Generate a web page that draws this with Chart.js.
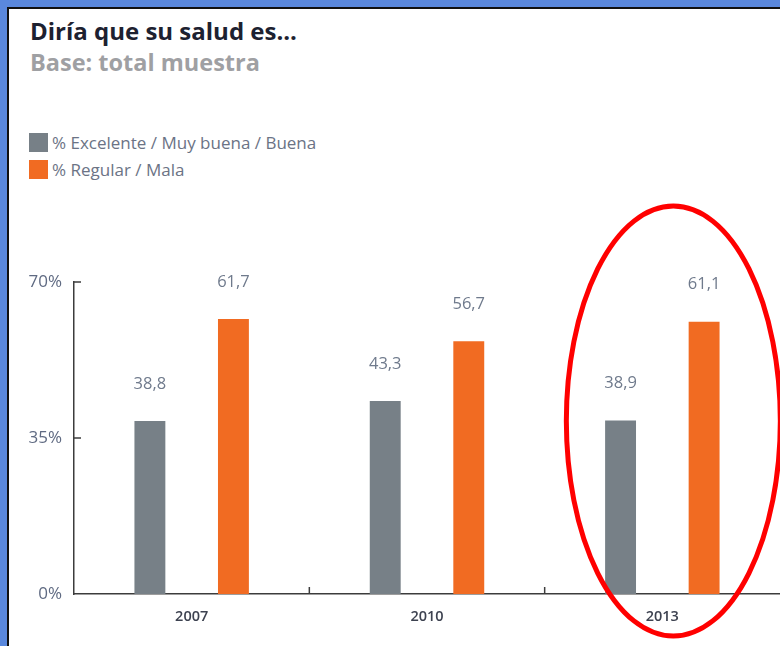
<!DOCTYPE html>
<html>
<head>
<meta charset="utf-8">
<script src="https://cdn.jsdelivr.net/npm/chart.js@4/dist/chart.umd.min.js"></script>
<style>
  html, body { margin:0; padding:0; width:780px; height:646px; overflow:hidden; background:#5a88dd; }
  #panel { position:absolute; left:7px; top:7px; width:773px; height:639px; background:#fff;
           border-left:2px solid #111; border-top:2px solid #111; box-sizing:border-box; }
  #title { position:absolute; left:30px; top:15px; font-family:"Open Sans", sans-serif; font-weight:700;
           font-size:24px; line-height:1.36; color:#1d2130; white-space:nowrap; }
  #subtitle { position:absolute; left:30px; top:47px; font-family:"Open Sans", sans-serif; font-weight:700;
           font-size:23.5px; line-height:1.36; color:#9fa0a3; white-space:nowrap; }
  #legend { position:absolute; left:29px; top:129px; font-family:"Open Sans", sans-serif; font-size:17px; color:#6b7385; }
  .item { display:flex; align-items:center; height:27px; }
  .sw { width:19px; height:19px; margin-right:4px; }
  canvas { position:absolute; left:0; top:0; }
</style>
</head>
<body>
<div id="panel"></div>
<div id="title">Diría que su salud es...</div>
<div id="subtitle">Base: total muestra</div>
<div id="legend"></div>
<canvas id="c" width="780" height="646"></canvas>
<script>
const categories = ['2007', '2010', '2013'];
const seriesNames = ['% Excelente / Muy buena / Buena', '% Regular / Mala'];
const seriesExcelente = [38.8, 43.3, 38.9];
const seriesRegular = [61.7, 56.7, 61.1];
const yTickValues = [0, 35, 70];
const seriesColors = ['#778087', '#f16b22'];

// HTML legend built from the series
const legendEl = document.getElementById('legend');
seriesNames.forEach((n, i) => {
  const d = document.createElement('div'); d.className = 'item';
  const s = document.createElement('span'); s.className = 'sw'; s.style.background = seriesColors[i];
  const t = document.createElement('span'); t.textContent = n;
  d.appendChild(s); d.appendChild(t); legendEl.appendChild(d);
});

const fmt = v => v.toFixed(1).replace('.', ',');

const valueLabels = {
  id: 'valueLabels',
  afterDatasetsDraw(chart) {
    const ctx = chart.ctx;
    ctx.save();
    ctx.font = '16.5px "Open Sans", sans-serif';
    ctx.fillStyle = '#6f7a8c';
    ctx.textAlign = 'center';
    ctx.textBaseline = 'middle';
    chart.data.datasets.forEach((ds, di) => {
      chart.getDatasetMeta(di).data.forEach((el, i) => {
        ctx.fillText(fmt(ds.data[i]), el.x, el.y - 37);
      });
    });
    ctx.restore();
  }
};

const innerTicks = {
  id: 'innerTicks',
  afterDraw(chart) {
    const ctx = chart.ctx, ca = chart.chartArea;
    const x = chart.scales.x, y = chart.scales.y;
    ctx.save();
    ctx.strokeStyle = '#3c3c3c';
    ctx.lineWidth = 1.5;
    yTickValues.forEach(v => {
      if (v === 0) return;
      const py = y.getPixelForValue(v);
      ctx.beginPath(); ctx.moveTo(ca.left, py); ctx.lineTo(ca.left + 7, py); ctx.stroke();
    });
    for (let i = 0; i < categories.length - 1; i++) {
      const px = (x.getPixelForTick(i) + x.getPixelForTick(i + 1)) / 2;
      ctx.beginPath(); ctx.moveTo(px, ca.bottom); ctx.lineTo(px, ca.bottom - 7); ctx.stroke();
    }
    ctx.restore();
  }
};

const highlight = {
  id: 'highlight',
  afterDraw(chart) {
    const ctx = chart.ctx, ca = chart.chartArea;
    const cx = chart.scales.x.getPixelForValue(2) + 11;
    const cy = ca.bottom - 173;
    ctx.save();
    ctx.strokeStyle = '#ff0000';
    ctx.lineWidth = 5;
    ctx.beginPath();
    ctx.ellipse(cx, cy, 107, 215, 0, 0, Math.PI * 2);
    ctx.stroke();
    ctx.restore();
  }
};

new Chart(document.getElementById('c'), {
  type: 'bar',
  data: {
    labels: categories,
    datasets: [
      { label: seriesNames[0], data: seriesExcelente, backgroundColor: seriesColors[0] },
      { label: seriesNames[1], data: seriesRegular, backgroundColor: seriesColors[1] }
    ]
  },
  options: {
    responsive: false,
    animation: false,
    categoryPercentage: 0.71,
    barPercentage: 0.37,
    layout: { padding: { top: 282, right: 0, bottom: 0, left: 0 } },
    plugins: { legend: { display: false }, tooltip: { enabled: false } },
    scales: {
      x: {
        grid: { display: false, drawTicks: false },
        border: { display: true, color: '#3c3c3c', width: 1.5 },
        ticks: { padding: 14, color: '#3d4250', font: { family: 'Open Sans', size: 14.5, weight: '600' } },
        afterFit: s => { s.height = 52; }
      },
      y: {
        min: 0, max: 70,
        afterBuildTicks: s => { s.ticks = yTickValues.map(v => ({ value: v })); },
        grid: { display: false, drawTicks: false },
        border: { display: true, color: '#3c3c3c', width: 1.5 },
        ticks: { padding: 12, color: '#5f6a82', font: { family: 'Open Sans', size: 17 }, callback: v => v + '%' },
        afterFit: s => { s.width = 74; }
      }
    }
  },
  plugins: [valueLabels, innerTicks, highlight]
});
</script>
</body>
</html>
